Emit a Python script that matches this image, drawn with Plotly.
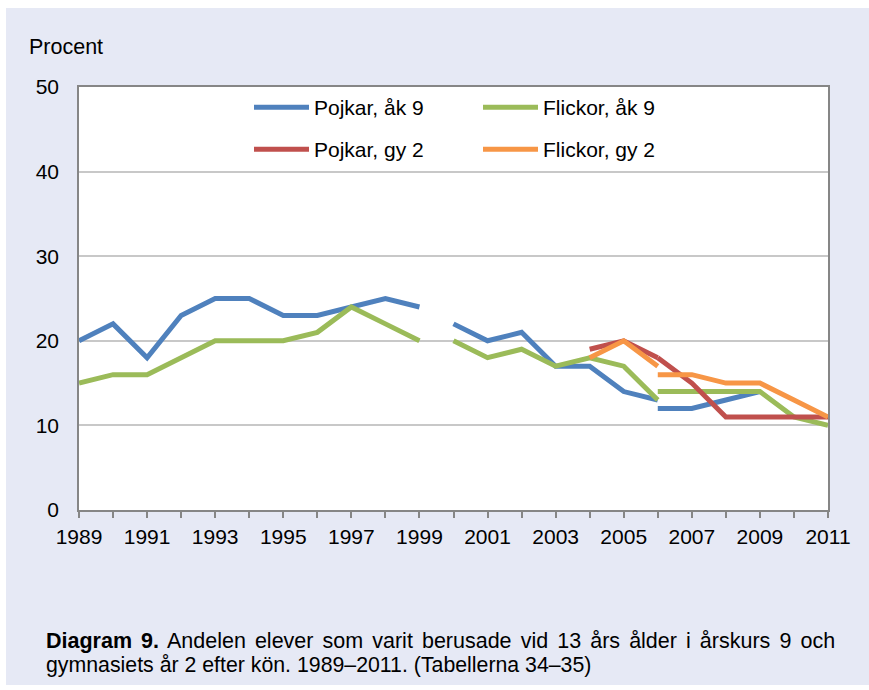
import plotly.graph_objects as go

# ---------------- data ----------------
years_a = [1989, 1990, 1991, 1992, 1993, 1994, 1995, 1996, 1997, 1998, 1999]
pojkar_ak9_a = [20, 22, 18, 23, 25, 25, 23, 23, 24, 25, 24]
flickor_ak9_a = [15, 16, 16, 18, 20, 20, 20, 21, 24, 22, 20]

years_b = [2000, 2001, 2002, 2003, 2004, 2005, 2006]
pojkar_ak9_b = [22, 20, 21, 17, 17, 14, 13]
flickor_ak9_b = [20, 18, 19, 17, 18, 17, 13]

years_c = [2006, 2007, 2008, 2009, 2010, 2011]
pojkar_ak9_c = [12, 12, 13, 14, None, None]
flickor_ak9_c = [14, 14, 14, 14, 11, 10]

years_gy_a = [2004, 2005, 2006]
pojkar_gy2_a = [19, 20, 18]
flickor_gy2_a = [18, 20, 17]

years_gy_b = [2006, 2007, 2008, 2009, 2010, 2011]
pojkar_gy2_b = [18, 15, 11, 11, 11, 11]
flickor_gy2_b = [16, 16, 15, 15, 13, 11]

x_ticks = [1989, 1991, 1993, 1995, 1997, 1999, 2001, 2003, 2005, 2007, 2009, 2011]
y_ticks = [0, 10, 20, 30, 40, 50]

names = ["Pojkar, åk 9", "Flickor, åk 9", "Pojkar, gy 2", "Flickor, gy 2"]
colors = ["#4F81BD", "#9BBB59", "#C0504D", "#F79646"]

# ---------------- layout geometry ----------------
W, H = 869, 690
L, R, T, B = 79, 41, 87, 180
PW, PH = W - L - R, H - T - B


def px(x):
    return (x - L) / PW


def py(y):
    return (H - B - y) / PH


FONT = "Arial, Liberation Sans, sans-serif"
LW = 5

fig = go.Figure()

series = [
    (0, [(years_a, pojkar_ak9_a), (years_b, pojkar_ak9_b), (years_c, pojkar_ak9_c)], "legend"),
    (1, [(years_a, flickor_ak9_a), (years_b, flickor_ak9_b), (years_c, flickor_ak9_c)], "legend"),
    (2, [(years_gy_a, pojkar_gy2_a), (years_gy_b, pojkar_gy2_b)], "legend2"),
    (3, [(years_gy_a, flickor_gy2_a), (years_gy_b, flickor_gy2_b)], "legend2"),
]

for idx, segs, leg in series:
    for k, (xs, ys) in enumerate(segs):
        fig.add_trace(go.Scatter(
            x=xs, y=ys, mode="lines", name=names[idx],
            line=dict(color=colors[idx], width=LW),
            showlegend=(k == 0), legendgroup=names[idx], legend=leg,
            connectgaps=False, hoverinfo="skip",
        ))

axis_col = "#868686"
grid_col = "#C8C8C8"

fig.update_xaxes(
    range=[1989, 2011], tickvals=x_ticks, ticktext=[str(v) for v in x_ticks],
    showline=True, linecolor=axis_col, linewidth=1.5, mirror=True,
    ticks="outside", ticklen=6, tickcolor=axis_col, tickwidth=1.5,
    minor=dict(dtick=1, tick0=1989, ticks="outside", ticklen=6, tickcolor=axis_col, tickwidth=1.5, showgrid=False),
    showgrid=False, zeroline=False,
    tickfont=dict(family=FONT, size=21, color="#000000"),
    ticklabelstandoff=1,
)
fig.update_yaxes(
    range=[0, 50], tickvals=y_ticks,
    showline=True, linecolor=axis_col, linewidth=1.5, mirror=True,
    ticks="", showgrid=True, gridcolor=grid_col, gridwidth=1.5, zeroline=False,
    tickfont=dict(family=FONT, size=21, color="#000000"),
    ticklabelstandoff=14,
)

shapes = [
    dict(type="rect", xref="paper", yref="paper", x0=px(0), x1=px(W), y0=py(0), y1=py(8),
         fillcolor="white", line=dict(width=0), layer="below"),
    dict(type="rect", xref="paper", yref="paper", x0=px(0), x1=px(6), y0=py(0), y1=py(H),
         fillcolor="white", line=dict(width=0), layer="below"),
    dict(type="rect", xref="paper", yref="paper", x0=px(0), x1=px(W), y0=py(685), y1=py(H),
         fillcolor="white", line=dict(width=0), layer="below"),
]

annotations = [
    dict(text="Procent", xref="paper", yref="paper", x=px(27), y=py(47),
         xanchor="left", yanchor="middle", showarrow=False,
         font=dict(family=FONT, size=21.5, color="#000000")),
    dict(text="<span style=\"word-spacing:3.1px\"><b>Diagram 9.</b> Andelen elever som varit berusade vid 13 års ålder i årskurs 9 och</span>",
         xref="paper", yref="paper", x=px(44), y=py(641),
         xanchor="left", yanchor="middle", showarrow=False, align="left",
         font=dict(family=FONT, size=21.5, color="#000000")),
    dict(text="gymnasiets år 2 efter kön. 1989–2011. (Tabellerna 34–35)",
         xref="paper", yref="paper", x=px(44), y=py(665),
         xanchor="left", yanchor="middle", showarrow=False, align="left",
         font=dict(family=FONT, size=21.3, color="#000000")),
]

leg_common = dict(
    orientation="h", xanchor="left", yanchor="top",
    bgcolor="rgba(0,0,0,0)", borderwidth=0,
    font=dict(family=FONT, size=21, color="#000000"),
    itemwidth=55, entrywidth=159, traceorder="normal",
)

fig.update_layout(
    width=W, height=H, autosize=False,
    margin=dict(l=L, r=R, t=T, b=B, pad=0),
    paper_bgcolor="#E6E9F5", plot_bgcolor="white",
    showlegend=True,
    legend=dict(x=px(249), y=py(87), **leg_common),
    legend2=dict(x=px(249), y=py(129), **leg_common),
    shapes=shapes, annotations=annotations,
)

fig.write_html("out.html", config={"displayModeBar": False},
               post_script="document.body.style.margin='0';document.body.style.overflow='hidden';")
